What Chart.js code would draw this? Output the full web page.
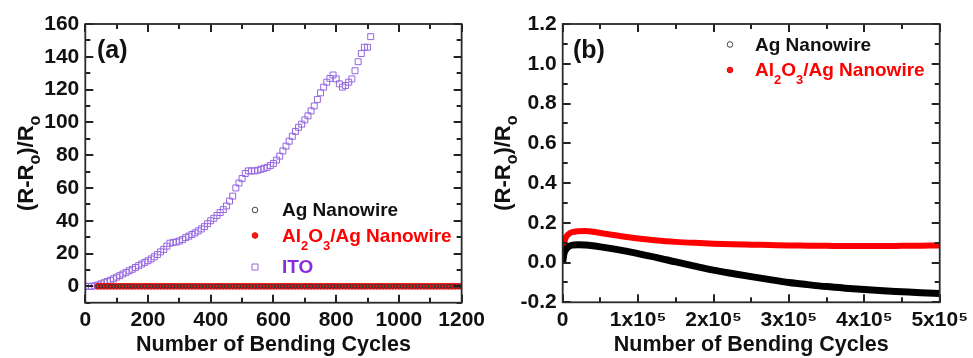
<!DOCTYPE html>
<html>
<head>
<meta charset="utf-8">
<script src="https://cdn.jsdelivr.net/npm/chart.js@4/dist/chart.umd.min.js"></script>
<style>
  html, body { margin: 0; padding: 0; background: #fff; }
  #wrap { position: relative; width: 973px; height: 358px; overflow: hidden; }
  #box_a { position: absolute; left: 0; top: 0; width: 490px; height: 358px; }
  #box_b { position: absolute; left: 490px; top: 0; width: 483px; height: 358px; }
</style>
</head>
<body>
<div id="wrap">
  <div id="box_a"><canvas id="chart_a"></canvas></div>
  <div id="box_b"><canvas id="chart_b"></canvas></div>
</div>
<script>
// panel (a): bending cycles up to ~1200
var cyclesITO = [0,10,20,30,40,50,60,70,80,90,100,110,120,130,140,150,160,170,180,190,200,210,220,230,240,250,260,270,280,290,300,310,320,330,340,350,360,370,380,390,400,410,420,430,440,450,460,470,480,490,500,510,520,530,540,550,560,570,580,590,600,610,620,630,640,650,660,670,680,690,700,710,720,730,740,750,760,770,780,790,800,810,820,830,840,850,860,870,880,890,900,910];
var valuesITO = [0,0,0,0.3,0.8,1.5,2.2,2.9,3.7,4.6,5.6,6.5,7.5,8.5,9.5,10.4,11.5,12.6,13.6,14.6,15.6,16.7,18,19.4,21,22.5,24.5,26.3,26.8,27,27.6,28.5,29.7,30.6,31.6,32.6,33.8,35,36.4,38.2,40,41.5,43.2,45,46.8,49,52,55,60,63,65.8,68.8,70.4,70.4,70.4,70.8,71.4,72,72.6,73.7,75,77,79.4,82.6,85.5,88.5,91.5,94.5,97,98.9,101.5,104,107,110,114,118,121.5,124.5,126.8,128.9,126.5,123.5,121.5,122.5,124.5,126.5,131.5,137,142,145.8,145.8,152.3];

var cyclesNW = [40,50,60,70,80,90,100,110,120,130,140,150,160,170,180,190,200,210,220,230,240,250,260,270,280,290,300,310,320,330,340,350,360,370,380,390,400,410,420,430,440,450,460,470,480,490,500,510,520,530,540,550,560,570,580,590,600,610,620,630,640,650,660,670,680,690,700,710,720,730,740,750,760,770,780,790,800,810,820,830,840,850,860,870,880,890,900,910,920,930,940,950,960,970,980,990,1000,1010,1020,1030,1040,1050,1060,1070,1080,1090,1100,1110,1120,1130,1140,1150,1160,1170,1180,1190,1200];
var valuesAgA = [0,0,0,0,0,0,0,0,0,0,0,0,0,0,0,0,0,0,0,0,0,0,0,0,0,0,0,0,0,0,0,0,0,0,0,0,0,0,0,0,0,0,0,0,0,0,0,0,0,0,0,0,0,0,0,0,0,0,0,0,0,0,0,0,0,0,0,0,0,0,0,0,0,0,0,0,0,0,0,0,0,0,0,0,0,0,0,0,0,0,0,0,0,0,0,0,0,0,0,0,0,0,0,0,0,0,0,0,0,0,0,0,0,0,0,0,0];
var valuesAlA = [0,0,0,0,0,0,0,0,0,0,0,0,0,0,0,0,0,0,0,0,0,0,0,0,0,0,0,0,0,0,0,0,0,0,0,0,0,0,0,0,0,0,0,0,0,0,0,0,0,0,0,0,0,0,0,0,0,0,0,0,0,0,0,0,0,0,0,0,0,0,0,0,0,0,0,0,0,0,0,0,0,0,0,0,0,0,0,0,0,0,0,0,0,0,0,0,0,0,0,0,0,0,0,0,0,0,0,0,0,0,0,0,0,0,0,0,0];

// panel (b): bending cycles up to 5x10^5
var cyclesB = [0,1000,2000,4000,7000,12000,20000,30000,40000,50000,65000,80000,100000,125000,150000,175000,200000,225000,250000,275000,300000,325000,350000,375000,400000,425000,450000,475000,500000];
var valuesAgB = [0,0.03,0.05,0.065,0.078,0.087,0.09,0.088,0.084,0.079,0.07,0.06,0.045,0.025,0.003,-0.018,-0.038,-0.055,-0.071,-0.086,-0.1,-0.111,-0.121,-0.129,-0.136,-0.142,-0.147,-0.152,-0.156];
var valuesAlB = [0,0.07,0.1,0.125,0.14,0.152,0.158,0.159,0.155,0.149,0.14,0.131,0.121,0.111,0.104,0.099,0.095,0.092,0.09,0.088,0.086,0.085,0.084,0.083,0.083,0.083,0.084,0.085,0.086];

// tick marks (major + minor) for the frame
var tickXA = [0,100,200,300,400,500,600,700,800,900,1000,1100,1200];
var tickYA = [-10,0,10,20,30,40,50,60,70,80,90,100,110,120,130,140,150,160];
var tickXB = [0,50000,100000,150000,200000,250000,300000,350000,400000,450000,500000];
var tickYB = [-0.2,-0.1,0,0.1,0.2,0.3,0.4,0.5,0.6,0.7,0.8,0.9,1.0,1.1,1.2];
var labelsXB = ['0','1x10\u2075','2x10\u2075','3x10\u2075','4x10\u2075','5x10\u2075'];

var FONT = "'Liberation Sans', Arial, sans-serif";
var RED = '#ff0000';
var PURPLE = '#8a2be2';

function pts(xs, ys) {
  return xs.map(function (x, i) { return { x: x, y: ys[i] }; });
}

// text with subscripts: parts = [[text, isSub], ...]
function drawRich(ctx, parts, x, y, size, subSize, subDrop, color) {
  ctx.fillStyle = color;
  ctx.textBaseline = 'alphabetic';
  ctx.textAlign = 'left';
  var cx = x;
  parts.forEach(function (p) {
    var s = p[1] ? subSize : size;
    ctx.font = 'bold ' + s + 'px ' + FONT;
    ctx.fillText(p[0], cx, y + (p[1] ? subDrop : 0));
    cx += ctx.measureText(p[0]).width;
  });
  return cx - x;
}

function richWidth(ctx, parts, size, subSize) {
  var w = 0;
  parts.forEach(function (p) {
    ctx.font = 'bold ' + (p[1] ? subSize : size) + 'px ' + FONT;
    w += ctx.measureText(p[0]).width;
  });
  return w;
}

var yTitle = [['(R-R', false], ['o', true], [')/R', false], ['o', true]];

// frame, inward ticks on all four sides, y title, panel label, legend
function makeDecor(o) {
  return {
    id: 'decor',
    afterDraw: function (chart) {
      var ctx = chart.ctx;
      var a = chart.chartArea;
      var xs = chart.scales.x, ys = chart.scales.y;
      ctx.save();
      ctx.fillStyle = '#222';
      o.xTicks.forEach(function (v, i) {
        var px = Math.round(xs.getPixelForValue(v));
        var L = (i % 2 === 0) ? 8 : 5;
        ctx.fillRect(px - 1, a.bottom - L, 2, L);
        ctx.fillRect(px - 1, a.top, 2, L);
      });
      o.yTicks.forEach(function (v, i) {
        var py = Math.round(ys.getPixelForValue(v));
        var L = ((i + o.yPhase) % 2 === 0) ? 8 : 5;
        ctx.fillRect(a.left, py - 1, L, 2);
        ctx.fillRect(a.right - L, py - 1, L, 2);
      });
      ctx.strokeStyle = '#2a2a2a';
      ctx.lineWidth = 1.8;
      ctx.strokeRect(a.left, a.top, a.right - a.left, a.bottom - a.top);

      // rotated y title
      ctx.save();
      var tw = richWidth(ctx, yTitle, 22, 16);
      ctx.translate(o.titleX, (a.top + a.bottom) / 2);
      ctx.rotate(-Math.PI / 2);
      drawRich(ctx, yTitle, -tw / 2, 0, 22, 16, 7, '#111');
      ctx.restore();

      // panel label
      ctx.font = 'bold 25px ' + FONT;
      ctx.fillStyle = '#111';
      ctx.textAlign = 'left';
      ctx.textBaseline = 'alphabetic';
      ctx.fillText(o.label, o.labelX, 58);

      // legend
      o.legend.forEach(function (item) {
        ctx.lineWidth = 1;
        ctx.strokeStyle = item.stroke;
        ctx.fillStyle = item.fill;
        ctx.beginPath();
        if (item.shape === 'rect') {
          ctx.rect(o.markX - 3, item.y - 3, 6, 6);
        } else {
          ctx.arc(o.markX, item.y, 2.8, 0, Math.PI * 2);
        }
        if (item.fill !== 'none') ctx.fill();
        ctx.stroke();
        drawRich(ctx, item.parts, o.textX, item.y + 6, 19, 13, 8, item.color);
      });
      ctx.restore();
    }
  };
}

var baseScale = function (min, max, step) {
  return {
    type: 'linear',
    min: min, max: max,
    grid: { display: false, drawTicks: false },
    border: { display: false },
    ticks: { stepSize: step, includeBounds: false, color: '#111', font: { family: FONT, size: 21, weight: 'bold' } }
  };
};

var xTitle = { display: true, text: 'Number of Bending Cycles', color: '#111', font: { family: FONT, size: 21.5, weight: 'bold' }, padding: { top: 0, bottom: 0 } };

// ---- panel (a)
var xA = baseScale(0, 1200, 200);
xA.ticks.padding = 5;
xA.ticks.callback = function (v) { return String(v); };
xA.title = xTitle;
xA.afterFit = function (s) { s.height = 55.3; };
var yA = baseScale(-10, 160, 20);
yA.ticks.padding = 6;
yA.ticks.callback = function (v) { return String(v); };
yA.afterFit = function (s) { s.width = 85.3; };

new Chart(document.getElementById('chart_a'), {
  type: 'scatter',
  data: {
    datasets: [
      { label: 'Ag Nanowire', data: pts(cyclesNW, valuesAgA), pointStyle: 'circle', pointRadius: 1.8, borderColor: '#333', backgroundColor: 'rgba(0,0,0,0)', borderWidth: 1 },
      { label: 'Al2O3/Ag Nanowire', data: pts(cyclesNW, valuesAlA), pointStyle: 'circle', pointRadius: 3, borderColor: '#f00000', backgroundColor: '#ff2a2a', borderWidth: 0.8 },
      { label: 'ITO', data: pts(cyclesITO, valuesITO), pointStyle: 'rect', pointRadius: 4.2, borderColor: '#9466e0', backgroundColor: 'rgba(0,0,0,0)', borderWidth: 1 }
    ]
  },
  options: {
    responsive: true,
    maintainAspectRatio: false,
    animation: false,
    events: [],
    layout: { padding: { left: 0, top: 24, right: 25, bottom: 0 } },
    scales: { x: xA, y: yA },
    plugins: {
      legend: { display: false },
      tooltip: { enabled: false }
    }
  },
  plugins: [makeDecor({
    xTicks: tickXA, yTicks: tickYA, yPhase: 1,
    titleX: 33, label: '(a)', labelX: 97,
    markX: 255, textX: 282,
    legend: [
      { y: 210, shape: 'circle', stroke: '#444', fill: 'none', color: '#111', parts: [['Ag Nanowire', false]] },
      { y: 235.5, shape: 'circle', stroke: '#e00000', fill: '#ff1a1a', color: RED, parts: [['Al', false], ['2', true], ['O', false], ['3', true], ['/Ag Nanowire', false]] },
      { y: 267, shape: 'rect', stroke: '#9466e0', fill: 'none', color: PURPLE, parts: [['ITO', false]] }
    ]
  })]
});

// ---- panel (b)
var xB = baseScale(0, 500000, 100000);
xB.ticks.padding = 5;
xB.ticks.callback = function (v) { return labelsXB[Math.round(v / 100000)]; };
xB.title = xTitle;
xB.afterFit = function (s) { s.height = 55.7; };
var yB = baseScale(-0.2, 1.2, 0.2);
yB.ticks.padding = 6;
yB.ticks.includeBounds = true;
yB.ticks.callback = function (v) { var r = Math.round(v * 10) / 10; return (r === 0 ? 0 : r).toFixed(1); };
yB.afterFit = function (s) { s.width = 72.7; };

new Chart(document.getElementById('chart_b'), {
  type: 'scatter',
  data: {
    datasets: [
      { label: 'Ag Nanowire', data: pts(cyclesB, valuesAgB), showLine: true, borderColor: '#000', borderWidth: 7, pointRadius: 0, cubicInterpolationMode: 'monotone', backgroundColor: '#000' },
      { label: 'Al2O3/Ag Nanowire', data: pts(cyclesB, valuesAlB), showLine: true, borderColor: '#ff0000', borderWidth: 6, pointRadius: 0, cubicInterpolationMode: 'monotone', backgroundColor: '#ff0000' }
    ]
  },
  options: {
    responsive: true,
    maintainAspectRatio: false,
    animation: false,
    events: [],
    layout: { padding: { left: 0, top: 24, right: 30.3, bottom: 0 } },
    scales: { x: xB, y: yB },
    plugins: {
      legend: { display: false },
      tooltip: { enabled: false }
    }
  },
  plugins: [makeDecor({
    xTicks: tickXB, yTicks: tickYB, yPhase: 0,
    titleX: 20, label: '(b)', labelX: 83,
    markX: 240, textX: 265,
    legend: [
      { y: 44.5, shape: 'circle', stroke: '#444', fill: 'none', color: '#111', parts: [['Ag Nanowire', false]] },
      { y: 70, shape: 'circle', stroke: '#e00000', fill: '#ff1a1a', color: RED, parts: [['Al', false], ['2', true], ['O', false], ['3', true], ['/Ag Nanowire', false]] }
    ]
  })]
});
</script>
</body>
</html>
